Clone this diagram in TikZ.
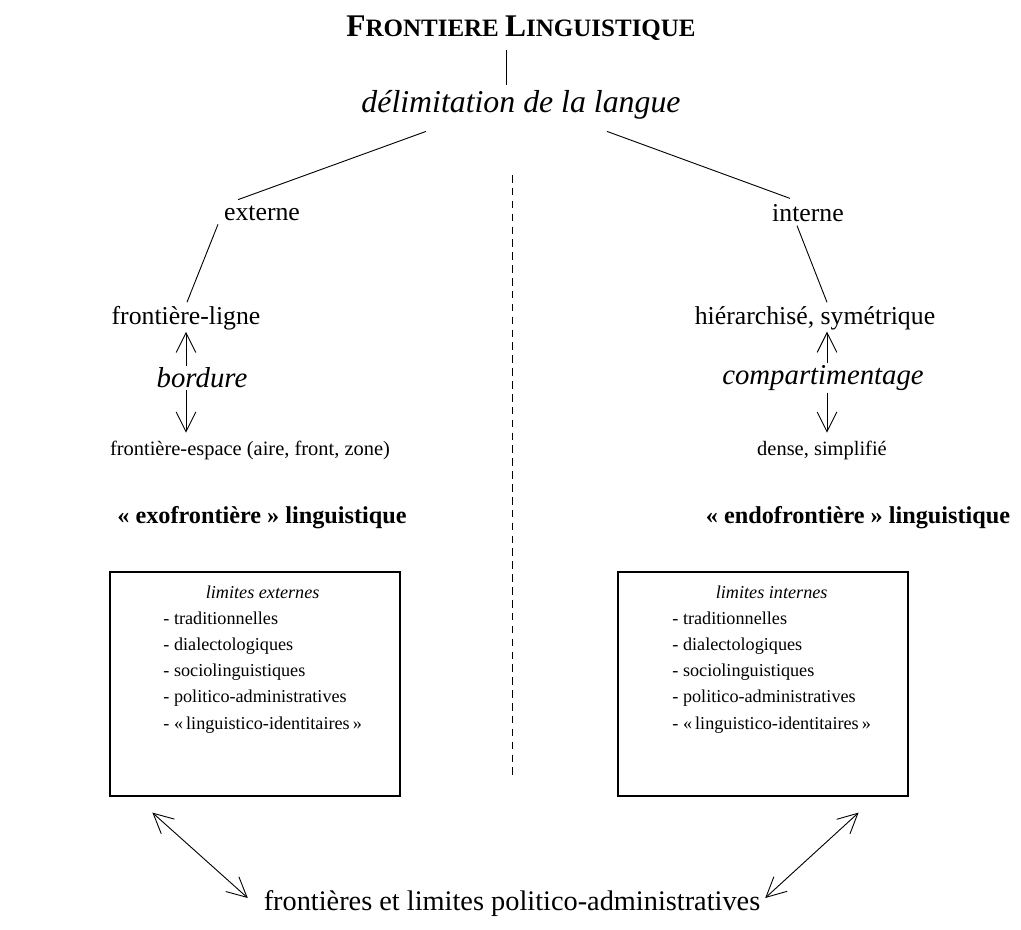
\documentclass[tikz,border=0pt]{standalone}
\usepackage{fontspec}
\setmainfont{Liberation Serif}
\usetikzlibrary{arrows.meta,calc}

\tikzset{
  lab/.style={inner sep=1pt,font=\fontsize{13.5}{16}\selectfont},
  labgr/.style={inner sep=1pt,font=\fontsize{17}{20}\selectfont},
  labit/.style={inner sep=1pt,font=\fontsize{19}{22}\selectfont\itshape},
  grand/.style={inner sep=1pt,font=\fontsize{16}{19}\selectfont\bfseries},
  boite/.style={draw,line width=0.8pt,minimum width=290*0.66pt,minimum height=224*0.66pt},
  liste/.style={inner sep=0pt,font=\fontsize{12}{17.2}\selectfont},
  fleche/.style={-{Straight Barb[length=13pt,width=13pt]},line width=0.6pt},
  double/.style={{Straight Barb[length=13pt,width=13pt]}-{Straight Barb[length=13pt,width=13pt]},line width=0.6pt},
}

\begin{document}
\begin{tikzpicture}[x=0.66pt,y=-0.66pt,line width=0.6pt]
\useasboundingbox (0,0) rectangle (1021,930);

\node[inner sep=1pt,font=\bfseries] (titre) at (521,28)
  {{\fontsize{20.8}{24}\selectfont F}{\fontsize{16.5}{19}\selectfont RONTIERE }{\fontsize{20.8}{24}\selectfont L}{\fontsize{16.5}{19}\selectfont INGUISTIQUE}};
\node[inner sep=1pt,font=\fontsize{21}{24}\selectfont\itshape] (delim) at (521,105) {délimitation de la langue};

\node[labgr] (externe) at (262,213) {externe};
\node[labgr] (interne) at (808,213) {interne};

% cote externe
\node[labgr] (ligne) at (186,318) {frontière-ligne};
\node[labit] (bordure) at (202,378) {bordure};
\node[lab] (espace) at (250,450) {frontière-espace (aire, front, zone)};

% cote interne
\node[labgr] (hier) at (815,318) {hiérarchisé, symétrique};
\node[labit] (compart) at (823,378) {compartimentage};
\node[lab] (dense) at (822,450) {dense, simplifié};

\node[grand] (exo) at (262,518) {« exofrontière » linguistique};
\node[grand] (endo) at (858,518) {« endofrontière » linguistique};

\node[boite] (boxext) at (255,684) {};
\node[boite] (boxint) at (763,684) {};
\node[liste,anchor=north west] (listext) at (163,580) {\begin{tabular}{@{}l@{}}
  \multicolumn{1}{@{}c@{}}{\itshape limites externes}\\
  - traditionnelles\\
  - dialectologiques\\
  - sociolinguistiques\\
  - politico-administratives\\
  - «\,linguistico-identitaires\,»
\end{tabular}};
\node[liste,anchor=north west] (listint) at (672,580) {\begin{tabular}{@{}l@{}}
  \multicolumn{1}{@{}c@{}}{\itshape limites internes}\\
  - traditionnelles\\
  - dialectologiques\\
  - sociolinguistiques\\
  - politico-administratives\\
  - «\,linguistico-identitaires\,»
\end{tabular}};

\node[inner sep=1pt,font=\fontsize{18.7}{22}\selectfont] (admin) at (512,904) {frontières et limites politico-administratives};

\coordinate (haut) at (512,175);
\coordinate (bas) at (512,775);
\draw[dash pattern=on 5pt off 3.5pt] (haut) -- (bas);

\draw ($(titre.south)+(-15,8)$) -- ($(delim.north)+(-15,-4)$);
\draw ($(delim.south)+(-95,10)$) -- ($(externe.north)+(-24,-4)$);
\draw ($(delim.south)+(86,10)$) -- ($(interne.north)+(-18,-4)$);
\draw ($(externe.south)+(-44,2)$) -- ($(ligne.north)+(1,-2)$);
\draw ($(interne.south)+(-11,2)$) -- ($(hier.north)+(12,-2)$);

\draw[fleche] ($(bordure.north)+(-16,0)$) -- ($(ligne.south)+(0,0)$);
\draw[fleche] ($(bordure.south)+(-16,0)$) -- ($(espace.north)+(-64,-6)$);
\draw[fleche] ($(compart.north)+(4,0)$) -- ($(hier.south)+(12,0)$);
\draw[fleche] ($(compart.south)+(4,0)$) -- ($(dense.north)+(5,-6)$);

\draw[double] ($(boxext.south west)+(43,16)$) -- ($(admin.west)+(-14,-6)$);
\draw[double] ($(boxint.south east)+(-50,16)$) -- ($(admin.east)+(3,-6)$);
\end{tikzpicture}
\end{document}
